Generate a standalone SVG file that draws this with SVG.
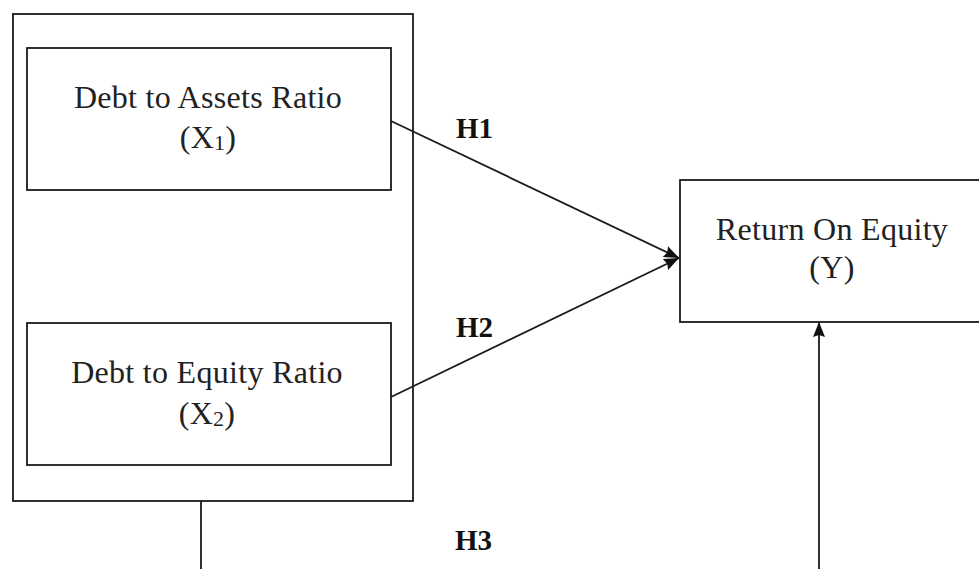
<svg xmlns="http://www.w3.org/2000/svg" width="979" height="569" viewBox="0 0 979 569">
  <style>
    .box { fill: none; stroke: #1a1a1a; stroke-width: 1.8; }
    .lbl { font-family: "Liberation Serif", "Times New Roman", serif; font-size: 32px; letter-spacing: 0.3px; fill: #222; text-anchor: middle; }
    .hyp { font-family: "Liberation Serif", "Times New Roman", serif; font-size: 29px; font-weight: bold; fill: #111; }
    .sub { font-size: 22px; }
    .link { fill: none; stroke: #1a1a1a; stroke-width: 1.8; }
  </style>
  <defs>
    <marker id="arrow" viewBox="0 0 15 12" refX="15" refY="6" markerWidth="15" markerHeight="12" markerUnits="userSpaceOnUse" orient="auto">
      <path d="M0,0 L15,6 L0,12 L2,6 Z" fill="#111"/>
    </marker>
  </defs>
  <rect width="979" height="569" fill="#ffffff"/>

  <!-- grouping frame around the independent variables -->
  <g id="frame">
    <rect class="box" x="13" y="14" width="400" height="487"/>
  </g>

  <g id="x1">
    <rect class="box" x="27" y="48" width="364" height="142"/>
    <text class="lbl" x="208" y="108">Debt to Assets Ratio</text>
    <text class="lbl" x="208" y="148">(X<tspan class="sub" dy="2">1</tspan><tspan dy="-2">)</tspan></text>
  </g>

  <g id="x2">
    <rect class="box" x="27" y="323" width="364" height="142"/>
    <text class="lbl" x="207" y="383">Debt to Equity Ratio</text>
    <text class="lbl" x="207" y="424">(X<tspan class="sub" dy="2">2</tspan><tspan dy="-2">)</tspan></text>
  </g>

  <g id="y">
    <rect class="box" x="680" y="180" width="310" height="142"/>
    <text class="lbl" x="832" y="240">Return On Equity</text>
    <text class="lbl" x="832" y="278">(Y)</text>
  </g>

  <g id="connectors">
    <line class="link" x1="391" y1="121" x2="679" y2="258" marker-end="url(#arrow)"/>
    <line class="link" x1="391" y1="397" x2="679" y2="258" marker-end="url(#arrow)"/>
    <polyline class="link" points="201,501 201,572"/>
    <line class="link" x1="819" y1="572" x2="819" y2="322" marker-end="url(#arrow)"/>
    <text class="hyp" x="456" y="138">H1</text>
    <text class="hyp" x="456" y="337">H2</text>
    <text class="hyp" x="455" y="550">H3</text>
  </g>
</svg>
